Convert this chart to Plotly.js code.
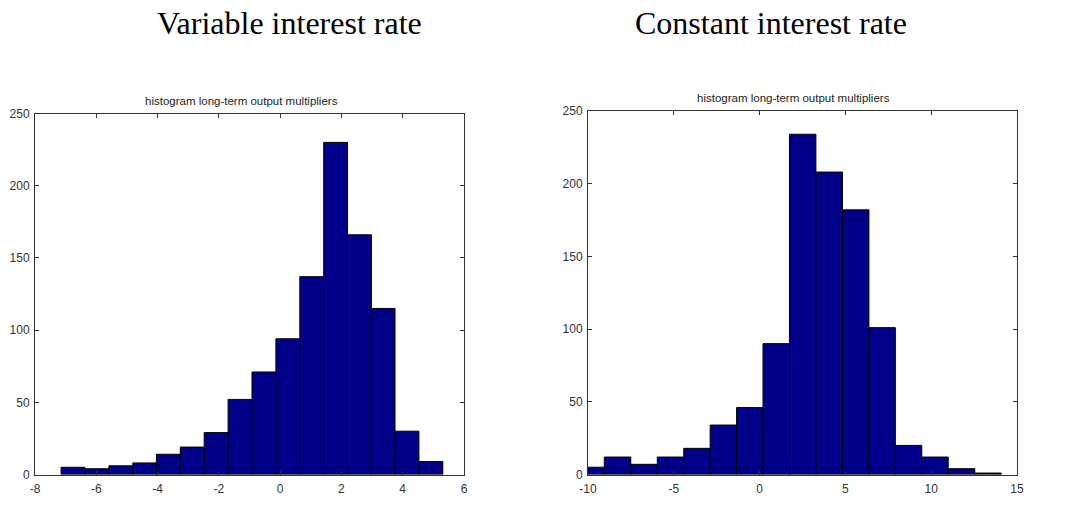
<!DOCTYPE html>
<html>
<head>
<meta charset="utf-8">
<script src="https://cdn.plot.ly/plotly-3.0.1.min.js"></script>
<style>html,body{margin:0;padding:0;background:#fff;}#chart{width:1065px;height:522px;}</style>
</head>
<body>
<div id="chart"></div>
<script>
// Left panel: variable interest rate
const leftCenters = [-6.76, -5.98, -5.20, -4.42, -3.65, -2.87, -2.09, -1.31, -0.53, 0.25, 1.03, 1.81, 2.59, 3.36, 4.14, 4.92];
const leftCounts  = [5, 4, 6, 8, 14, 19, 29, 52, 71, 94, 137, 230, 166, 115, 30, 9];
const leftBinWidth = 0.777;

// Right panel: constant interest rate
const rightCenters = [-9.82, -8.28, -6.74, -5.19, -3.65, -2.11, -0.57, 0.97, 2.51, 4.06, 5.60, 7.14, 8.68, 10.22, 11.77, 13.31];
const rightCounts  = [5, 12, 7, 12, 18, 34, 46, 90, 234, 208, 182, 101, 20, 12, 4, 1];
const rightBinWidth = 1.542;

const panelTitles = ["Variable interest rate", "Constant interest rate"];
const subTitle = "histogram long-term output multipliers";
const yTicks = [0, 50, 100, 150, 200, 250];
const yTickText = ["0", "50", "100", "150", "200", "250"];
const leftXTicks = [-8, -6, -4, -2, 0, 2, 4, 6];
const leftXTickText = ["-8", "-6", "-4", "-2", "0", "2", "4", "6"];
const rightXTicks = [-10, -5, 0, 5, 10, 15];
const rightXTickText = ["-10", "-5", "0", "5", "10", "15"];

const barColor = '#000088';
const axisColor = '#333333';

function barTrace(x, y, w, xa, ya) {
  return {
    type: 'bar', x: x, y: y, width: x.map(() => w),
    xaxis: xa, yaxis: ya,
    marker: {color: barColor, line: {color: '#000000', width: 1}},
    hoverinfo: 'x+y', showlegend: false
  };
}

function axisBase(extra) {
  return Object.assign({
    showgrid: false, zeroline: false, showline: true, mirror: 'ticks',
    linecolor: axisColor, linewidth: 1,
    ticks: 'inside', ticklen: 4, tickcolor: axisColor, tickwidth: 1,
    tickfont: {family: 'Liberation Sans, Arial, sans-serif', size: 12, color: '#333333'},
    fixedrange: true
  }, extra);
}

const data = [
  barTrace(leftCenters, leftCounts, leftBinWidth, 'x', 'y'),
  barTrace(rightCenters, rightCounts, rightBinWidth, 'x2', 'y2')
];

const W = 1065, H = 522;
const layout = {
  width: W, height: H,
  margin: {l: 0, r: 0, t: 0, b: 0},
  paper_bgcolor: '#ffffff', plot_bgcolor: '#ffffff',
  bargap: 0,
  xaxis: axisBase({domain: [35/W, 464/W], range: [-8, 6], tickvals: leftXTicks, ticktext: leftXTickText, anchor: 'y', ticklabelstandoff: 3}),
  yaxis: axisBase({domain: [1 - 474.5/H, 1 - 113.5/H], range: [0, 250], tickvals: yTicks, ticktext: yTickText, anchor: 'x', ticklabelstandoff: 2}),
  xaxis2: axisBase({domain: [588/W, 1017/W], range: [-10, 15], tickvals: rightXTicks, ticktext: rightXTickText, anchor: 'y2', ticklabelstandoff: 3}),
  yaxis2: axisBase({domain: [1 - 474.5/H, 1 - 111/H], range: [0, 250], tickvals: yTicks, ticktext: yTickText, anchor: 'x2', ticklabelstandoff: 2}),
  annotations: [
    {text: panelTitles[0], xref: 'paper', yref: 'paper', x: 289/W, y: 1 - 23/H, xanchor: 'center', yanchor: 'middle', showarrow: false,
     font: {family: 'Liberation Serif, Times New Roman, serif', size: 32, color: '#000'}},
    {text: panelTitles[1], xref: 'paper', yref: 'paper', x: 771/W, y: 1 - 23/H, xanchor: 'center', yanchor: 'middle', showarrow: false,
     font: {family: 'Liberation Serif, Times New Roman, serif', size: 32, color: '#000'}},
    {text: subTitle, xref: 'paper', yref: 'paper', x: 241/W, y: 1 - 101/H, xanchor: 'center', yanchor: 'middle', showarrow: false,
     font: {family: 'Liberation Sans, Arial, sans-serif', size: 11.5, color: '#222'}},
    {text: subTitle, xref: 'paper', yref: 'paper', x: 793/W, y: 1 - 98/H, xanchor: 'center', yanchor: 'middle', showarrow: false,
     font: {family: 'Liberation Sans, Arial, sans-serif', size: 11.5, color: '#222'}}
  ]
};

Plotly.newPlot('chart', data, layout, {displayModeBar: false, staticPlot: true});
</script>
</body>
</html>
